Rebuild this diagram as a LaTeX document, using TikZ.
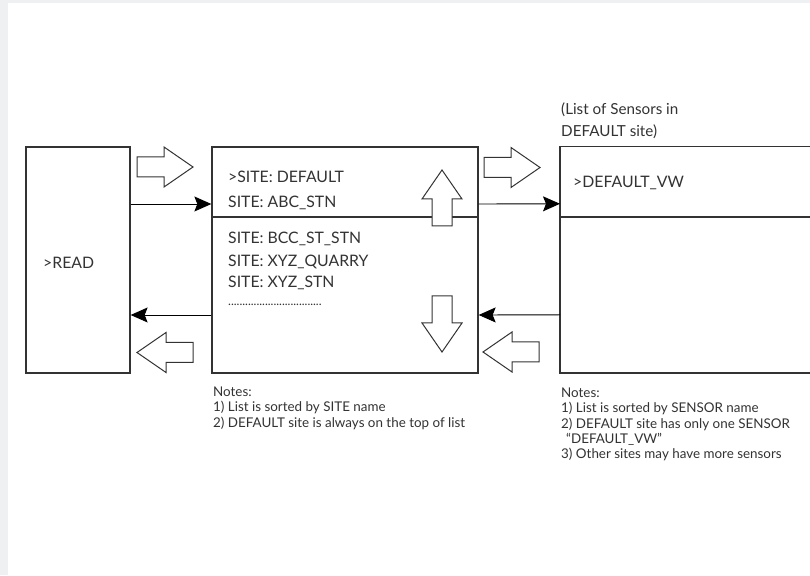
\documentclass[tikz,border=0pt]{standalone}
\usepackage{fontspec}
\setmainfont{Lato}
\usetikzlibrary{arrows.meta,positioning}

\definecolor{ink}{HTML}{333333}
\definecolor{pagegray}{HTML}{EEF0F2}

\tikzset{
  box/.style={draw=ink, line width=1.3pt, inner sep=0pt},
  boxline/.style={draw=ink, line width=1.3pt},
  conn/.style={draw=black, line width=0.9pt, -{Stealth[length=17pt,width=15pt,inset=3pt]}},
  listtxt/.style={anchor=west, inner sep=0pt, text=ink, font=\fontsize{15.8}{18}\selectfont},
  notetxt/.style={anchor=north west, inner sep=0pt, align=left, text=ink, font=\fontsize{13.4}{15.2}\selectfont},
  pics/fatarrow/.style={code={
    \draw[ink, line width=1pt, fill=white]
      (0,-10) -- (27,-10) -- (27,-20) -- (56,0) -- (27,20) -- (27,10) -- (0,10) -- cycle;
  }}
}

\begin{document}
\begin{tikzpicture}[x=1pt,y=1pt]
    % Page and grey margin
    \clip (0,0) rectangle (810,575);
    \fill[pagegray] (0,0) rectangle (810,575);
    \fill[white] (8,0) rectangle (810,572);

    % READ screen
    \node[box, minimum width=104, minimum height=226] (readbox) at (78,315) {};
    \node[listtxt] (readtxt) at (43,312) {>READ};

    % Site list screen
    \node[box, minimum width=266, minimum height=226] (sitebox) at (345,315) {};
    \draw[boxline] (sitebox.west |- 0,358) -- (sitebox.east |- 0,358);
    \node[listtxt] (sitedef) at (228,398) {>SITE: DEFAULT};
    \node[listtxt] (siteabc) at (228,372) {SITE: ABC\_STN};
    \node[listtxt] (sitebcc) at (228,336) {SITE: BCC\_ST\_STN};
    \node[listtxt] (sitequa) at (228,313) {SITE: XYZ\_QUARRY};
    \node[listtxt] (sitexyz) at (228,292) {SITE: XYZ\_STN};
    \node[listtxt, font=\fontsize{12}{14}\selectfont] (sitedots) at (228,270) {.................................};

    % Sensor list screen (runs off the right edge)
    \node[minimum width=262, minimum height=226, inner sep=0pt, anchor=south west] (sensorbox) at (560,202) {};
    \draw[boxline] (sensorbox.north east) -- (sensorbox.north west)
      -- (sensorbox.south west) -- (sensorbox.south east);
    \draw[boxline] (sensorbox.west |- 0,358) -- (sensorbox.east |- 0,358);
    \node[listtxt] (sensordef) at (573,392) {>DEFAULT\_VW};
    \node[notetxt, font=\fontsize{15.2}{21.7}\selectfont] (sensortitle) at (561,472)
      {(List of Sensors in\\DEFAULT site)};

    % Connectors between screens
    \draw[conn] ([yshift=56]readbox.east) -- ([yshift=56]sitebox.west);
    \draw[conn] ([yshift=-55]sitebox.west) -- ([yshift=-55]readbox.east);
    \draw[conn] ([yshift=56]sitebox.east) -- ([yshift=56]sensorbox.west);
    \draw[conn] ([yshift=-55]sensorbox.west) -- ([yshift=-55]sitebox.east);

    % Key arrows
    \pic at (137,408) {fatarrow};
    \pic[rotate=180] at (193,222.5) {fatarrow};
    \pic[rotate=90] at (442,349) {fatarrow};
    \pic[rotate=-90] at (442,279) {fatarrow};
    \pic at (484,407.5) {fatarrow};
    \pic[rotate=180] at (539,223) {fatarrow};

    % Notes
    \node[notetxt] (sitenotes) at (213,188)
      {Notes:\\1) List is sorted by SITE name\\2) DEFAULT site is always on the top of list};
    \node[notetxt] (sensornotes) at (561,187)
      {Notes:\\1) List is sorted by SENSOR name\\2) DEFAULT site has only one SENSOR\\
       \hspace*{5pt}“DEFAULT\_VW”\\3) Other sites may have more sensors};
\end{tikzpicture}
\end{document}
